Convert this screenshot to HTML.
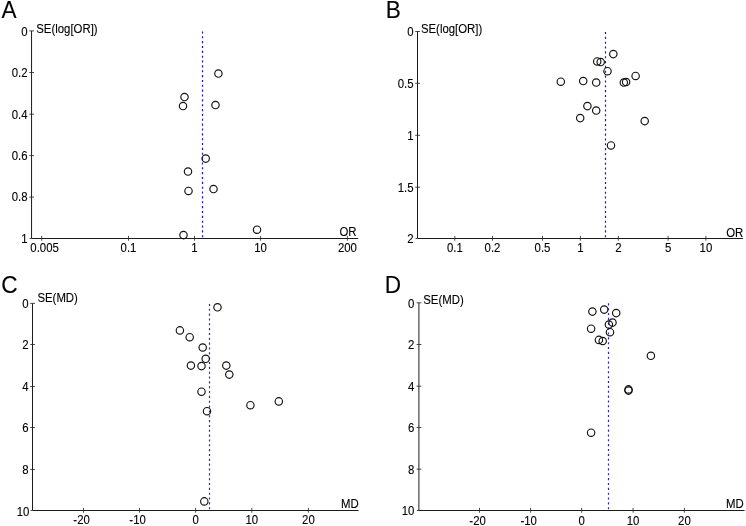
<!DOCTYPE html>
<html><head><meta charset="utf-8"><title>Funnel plots</title>
<style>
html,body{margin:0;padding:0;background:#fff;}
body{width:746px;height:526px;overflow:hidden;}
svg{display:block;}
text{font-family:"Liberation Sans",sans-serif;fill:#000;stroke:#000;stroke-width:0.1px;}
.t{font-size:11.4px;}
.p{font-size:22.6px;}
.ax{stroke:#1c1c1c;stroke-width:1.0;fill:none;}
.tk{stroke:#2a2a2a;stroke-width:0.85;fill:none;}
.d{stroke:#1515cc;stroke-width:1.2;fill:none;}
.c{stroke:#111;stroke-width:1.15;fill:none;}
.d2{stroke:#2828c8;stroke-width:1.2;fill:none;}
</style></head><body>
<svg width="746" height="526" viewBox="0 0 746 526">
<rect width="746" height="526" fill="#fff"/>

<text class="p" transform="translate(1.50 17.70) scale(1 1.04)">A</text>
<path class="ax" d="M31.55 30.9V238.5H358.2"/>
<path class="tk" d="M29.25 30.9H34.05"/>
<text class="t" text-anchor="end" transform="translate(27.55 35.60) scale(1 1.09)">0</text>
<path class="tk" d="M29.25 72.5H34.05"/>
<text class="t" text-anchor="end" transform="translate(27.55 76.80) scale(1 1.09)">0.2</text>
<path class="tk" d="M29.25 114.2H34.05"/>
<text class="t" text-anchor="end" transform="translate(27.55 118.50) scale(1 1.09)">0.4</text>
<path class="tk" d="M29.25 155.6H34.05"/>
<text class="t" text-anchor="end" transform="translate(27.55 159.90) scale(1 1.09)">0.6</text>
<path class="tk" d="M29.25 197.1H34.05"/>
<text class="t" text-anchor="end" transform="translate(27.55 201.40) scale(1 1.09)">0.8</text>
<path class="tk" d="M29.55 238.5H31.55"/>
<text class="t" text-anchor="end" transform="translate(27.55 242.80) scale(1 1.09)">1</text>
<path class="tk" d="M41.7 240.7V235.9"/>
<text class="t" text-anchor="middle" transform="translate(44.60 252.25) scale(1 1.04)">0.005</text>
<path class="tk" d="M128.5 240.7V235.9"/>
<text class="t" text-anchor="middle" transform="translate(128.50 252.25) scale(1 1.04)">0.1</text>
<path class="tk" d="M194.5 240.7V235.9"/>
<text class="t" text-anchor="middle" transform="translate(194.50 252.25) scale(1 1.04)">1</text>
<path class="tk" d="M260.6 240.7V235.9"/>
<text class="t" text-anchor="middle" transform="translate(260.60 252.25) scale(1 1.04)">10</text>
<path class="tk" d="M347.4 240.7V235.9"/>
<text class="t" text-anchor="middle" transform="translate(347.40 252.25) scale(1 1.04)">200</text>
<text class="t" transform="translate(36.25 33.40) scale(1 1.11)">SE(log[OR])</text>
<text class="t" text-anchor="end" transform="translate(356.50 236.10) scale(1 1.04)">OR</text>
<path class="d" stroke-dasharray="2.1 2.752" d="M202.5 31.4V237.3"/>
<circle class="c" cx="218.4" cy="73.5" r="3.7"/>
<circle class="c" cx="184.5" cy="97" r="3.7"/>
<circle class="c" cx="183" cy="106" r="3.7"/>
<circle class="c" cx="215.5" cy="105" r="3.7"/>
<circle class="c" cx="205.7" cy="158.6" r="3.7"/>
<circle class="c" cx="188" cy="171.5" r="3.7"/>
<circle class="c" cx="188.5" cy="190.9" r="3.7"/>
<circle class="c" cx="213.5" cy="189" r="3.7"/>
<circle class="c" cx="257" cy="229.7" r="3.7"/>
<circle class="c" cx="183.5" cy="235.1" r="3.7"/>
<text class="p" transform="translate(385.70 17.70) scale(1 1.04)">B</text>
<path class="ax" d="M417.5 31.5V238.5H743"/>
<path class="tk" d="M415.2 31.5H420.0"/>
<text class="t" text-anchor="end" transform="translate(413.50 35.70) scale(1 1.09)">0</text>
<path class="tk" d="M415.2 83.3H420.0"/>
<text class="t" text-anchor="end" transform="translate(413.50 87.90) scale(1 1.09)">0.5</text>
<path class="tk" d="M415.2 135.3H420.0"/>
<text class="t" text-anchor="end" transform="translate(413.50 139.90) scale(1 1.09)">1</text>
<path class="tk" d="M415.2 187.2H420.0"/>
<text class="t" text-anchor="end" transform="translate(413.50 191.80) scale(1 1.09)">1.5</text>
<path class="tk" d="M415.5 238.5H417.5"/>
<text class="t" text-anchor="end" transform="translate(413.50 243.40) scale(1 1.09)">2</text>
<path class="tk" d="M454.8 240.7V235.9"/>
<text class="t" text-anchor="middle" transform="translate(454.80 252.25) scale(1 1.04)">0.1</text>
<path class="tk" d="M492.5 240.7V235.9"/>
<text class="t" text-anchor="middle" transform="translate(492.50 252.25) scale(1 1.04)">0.2</text>
<path class="tk" d="M542.5 240.7V235.9"/>
<text class="t" text-anchor="middle" transform="translate(542.50 252.25) scale(1 1.04)">0.5</text>
<path class="tk" d="M580.4 240.7V235.9"/>
<text class="t" text-anchor="middle" transform="translate(580.40 252.25) scale(1 1.04)">1</text>
<path class="tk" d="M618.3 240.7V235.9"/>
<text class="t" text-anchor="middle" transform="translate(618.30 252.25) scale(1 1.04)">2</text>
<path class="tk" d="M668.1 240.7V235.9"/>
<text class="t" text-anchor="middle" transform="translate(668.10 252.25) scale(1 1.04)">5</text>
<path class="tk" d="M705.9 240.7V235.9"/>
<text class="t" text-anchor="middle" transform="translate(705.90 252.25) scale(1 1.04)">10</text>
<text class="t" transform="translate(420.90 33.10) scale(1 1.11)">SE(log[OR])</text>
<text class="t" text-anchor="end" transform="translate(743.30 237.00) scale(1 1.04)">OR</text>
<path class="d" stroke-dasharray="2.1 2.738" d="M605.5 32.0V237.3"/>
<circle class="c" cx="613.3" cy="54.1" r="3.7"/>
<circle class="c" cx="597.2" cy="61.4" r="3.7"/>
<circle class="c" cx="600.7" cy="62.1" r="3.7"/>
<circle class="c" cx="607.5" cy="71.2" r="3.7"/>
<circle class="c" cx="635.6" cy="75.9" r="3.7"/>
<circle class="c" cx="560.8" cy="81.7" r="3.7"/>
<circle class="c" cx="583.2" cy="81.0" r="3.7"/>
<circle class="c" cx="596.2" cy="82.5" r="3.7"/>
<circle class="c" cx="623.8" cy="82.5" r="3.7"/>
<circle class="c" cx="626.1" cy="82.0" r="3.7"/>
<circle class="c" cx="587.4" cy="106.1" r="3.7"/>
<circle class="c" cx="596.2" cy="110.5" r="3.7"/>
<circle class="c" cx="580.2" cy="118.1" r="3.7"/>
<circle class="c" cx="644.7" cy="121.1" r="3.7"/>
<circle class="c" cx="611.0" cy="145.4" r="3.7"/>
<text class="p" transform="translate(1.20 292.80) scale(1 1.04)">C</text>
<path class="ax" d="M32.5 303.4V510.5H358.6"/>
<path class="tk" d="M30.2 303.4H35.0"/>
<text class="t" text-anchor="end" transform="translate(28.50 307.90) scale(1 1.09)">0</text>
<path class="tk" d="M30.2 344.5H35.0"/>
<text class="t" text-anchor="end" transform="translate(28.50 349.30) scale(1 1.09)">2</text>
<path class="tk" d="M30.2 386.5H35.0"/>
<text class="t" text-anchor="end" transform="translate(28.50 391.30) scale(1 1.09)">4</text>
<path class="tk" d="M30.2 427.5H35.0"/>
<text class="t" text-anchor="end" transform="translate(28.50 432.30) scale(1 1.09)">6</text>
<path class="tk" d="M30.2 469.5H35.0"/>
<text class="t" text-anchor="end" transform="translate(28.50 474.30) scale(1 1.09)">8</text>
<path class="tk" d="M30.5 510.5H32.5"/>
<text class="t" text-anchor="end" transform="translate(29.40 515.70) scale(1 1.09)">10</text>
<path class="tk" d="M83.5 512.7V507.9"/>
<text class="t" text-anchor="middle" transform="translate(81.60 523.85) scale(1 1.04)">-20</text>
<path class="tk" d="M139.5 512.7V507.9"/>
<text class="t" text-anchor="middle" transform="translate(137.60 523.85) scale(1 1.04)">-10</text>
<path class="tk" d="M195.6 512.7V507.9"/>
<text class="t" text-anchor="middle" transform="translate(195.60 523.85) scale(1 1.04)">0</text>
<path class="tk" d="M251.8 512.7V507.9"/>
<text class="t" text-anchor="middle" transform="translate(251.80 523.85) scale(1 1.04)">10</text>
<path class="tk" d="M308.4 512.7V507.9"/>
<text class="t" text-anchor="middle" transform="translate(308.40 523.85) scale(1 1.04)">20</text>
<text class="t" transform="translate(37.40 301.50) scale(1 1.11)">SE(MD)</text>
<text class="t" text-anchor="end" transform="translate(358.80 508.20) scale(1 1.04)">MD</text>
<path class="d2" stroke-dasharray="2.1 2.740" d="M209.5 303.9V509.3"/>
<circle class="c" cx="217.5" cy="307.3" r="3.7"/>
<circle class="c" cx="179.9" cy="330.4" r="3.7"/>
<circle class="c" cx="189.7" cy="337.2" r="3.7"/>
<circle class="c" cx="202.7" cy="347.5" r="3.7"/>
<circle class="c" cx="205.7" cy="358.8" r="3.7"/>
<circle class="c" cx="190.9" cy="365.6" r="3.7"/>
<circle class="c" cx="201.5" cy="366.1" r="3.7"/>
<circle class="c" cx="226.3" cy="365.6" r="3.7"/>
<circle class="c" cx="229.3" cy="374.6" r="3.7"/>
<circle class="c" cx="201.5" cy="391.7" r="3.7"/>
<circle class="c" cx="250.4" cy="405.2" r="3.7"/>
<circle class="c" cx="278.8" cy="401.4" r="3.7"/>
<circle class="c" cx="207.0" cy="411.2" r="3.7"/>
<circle class="c" cx="204.3" cy="501.4" r="3.7"/>
<text class="p" transform="translate(384.70 293.30) scale(1 1.04)">D</text>
<path class="ax" d="M418.9 302.8V510.5H744.6"/>
<path class="tk" d="M416.59999999999997 302.8H421.4"/>
<text class="t" text-anchor="end" transform="translate(414.40 307.80) scale(1 1.09)">0</text>
<path class="tk" d="M416.59999999999997 344.5H421.4"/>
<text class="t" text-anchor="end" transform="translate(414.40 349.30) scale(1 1.09)">2</text>
<path class="tk" d="M416.59999999999997 386.2H421.4"/>
<text class="t" text-anchor="end" transform="translate(414.40 391.00) scale(1 1.09)">4</text>
<path class="tk" d="M416.59999999999997 427.5H421.4"/>
<text class="t" text-anchor="end" transform="translate(414.40 432.30) scale(1 1.09)">6</text>
<path class="tk" d="M416.59999999999997 469.2H421.4"/>
<text class="t" text-anchor="end" transform="translate(414.40 474.00) scale(1 1.09)">8</text>
<path class="tk" d="M416.9 510.5H418.9"/>
<text class="t" text-anchor="end" transform="translate(414.40 515.30) scale(1 1.09)">10</text>
<path class="tk" d="M479.5 512.7V507.9"/>
<text class="t" text-anchor="middle" transform="translate(477.60 524.55) scale(1 1.04)">-20</text>
<path class="tk" d="M530.6 512.7V507.9"/>
<text class="t" text-anchor="middle" transform="translate(528.70 524.55) scale(1 1.04)">-10</text>
<path class="tk" d="M581.7 512.7V507.9"/>
<text class="t" text-anchor="middle" transform="translate(581.70 524.55) scale(1 1.04)">0</text>
<path class="tk" d="M633.1 512.7V507.9"/>
<text class="t" text-anchor="middle" transform="translate(633.10 524.55) scale(1 1.04)">10</text>
<path class="tk" d="M684.4 512.7V507.9"/>
<text class="t" text-anchor="middle" transform="translate(684.40 524.55) scale(1 1.04)">20</text>
<text class="t" transform="translate(423.20 304.10) scale(1 1.11)">SE(MD)</text>
<text class="t" text-anchor="end" transform="translate(743.80 508.20) scale(1 1.04)">MD</text>
<path class="d2" stroke-dasharray="2.1 2.755" d="M608.5 303.3V509.3"/>
<circle class="c" cx="592.4" cy="311.6" r="3.7"/>
<circle class="c" cx="604.2" cy="309.6" r="3.7"/>
<circle class="c" cx="616.2" cy="313.1" r="3.7"/>
<circle class="c" cx="612.5" cy="322.6" r="3.7"/>
<circle class="c" cx="608.9" cy="324.6" r="3.7"/>
<circle class="c" cx="591.1" cy="328.7" r="3.7"/>
<circle class="c" cx="610.0" cy="332.2" r="3.7"/>
<circle class="c" cx="598.9" cy="339.9" r="3.7"/>
<circle class="c" cx="602.7" cy="341.0" r="3.7"/>
<circle class="c" cx="650.9" cy="355.8" r="3.7"/>
<circle class="c" cx="628.5" cy="389.4" r="3.7"/>
<circle class="c" cx="628.5" cy="390.6" r="3.7"/>
<circle class="c" cx="591.1" cy="432.7" r="3.7"/>
</svg></body></html>
